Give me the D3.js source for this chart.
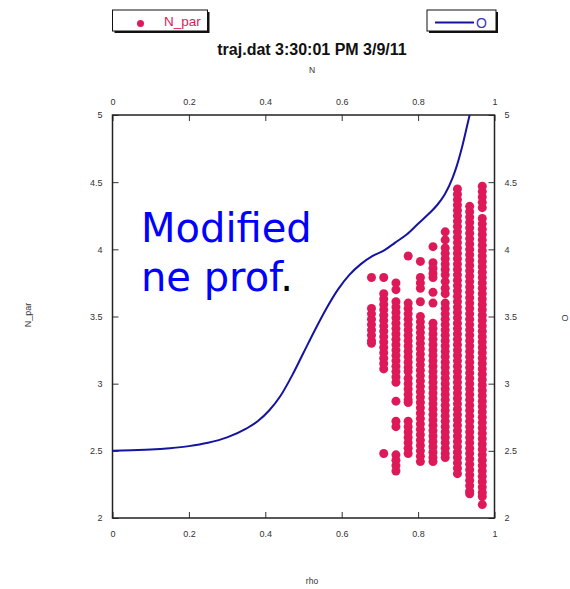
<!DOCTYPE html>
<html>
<head>
<meta charset="utf-8">
<script src="https://cdn.jsdelivr.net/npm/d3@7"></script>
<style>
  html, body { margin: 0; padding: 0; background: #fff; }
  svg { display: block; }
</style>
</head>
<body>
<svg id="chart" width="570" height="589"></svg>
<script>
// ---- Data -------------------------------------------------------------
// Density profile O versus N (top / right axes)
const profileN = [0, 0.05, 0.10, 0.15, 0.20, 0.25, 0.30, 0.35, 0.38, 0.41, 0.44, 0.47,
  0.50, 0.53, 0.56, 0.59, 0.62, 0.65, 0.68, 0.71, 0.74, 0.77, 0.80, 0.83, 0.85, 0.87,
  0.89, 0.90, 0.915, 0.93, 0.935];
const profileO = [2.50, 2.505, 2.51, 2.52, 2.535, 2.56, 2.60, 2.665, 2.72, 2.80, 2.91, 3.06,
  3.23, 3.40, 3.56, 3.70, 3.81, 3.89, 3.95, 3.99, 4.05, 4.11, 4.19, 4.27, 4.33, 4.41,
  4.53, 4.61, 4.76, 4.94, 5.0];

// N_par of the rays at each rho surface (bottom / left axes)
const rhoSurfaces = [0.678, 0.710, 0.742, 0.774, 0.806, 0.839, 0.871, 0.903, 0.935, 0.968];
const nparBySurface = [
  [3.79, 3.56, 3.52, 3.48, 3.44, 3.40, 3.36, 3.32, 3.30],
  [3.79, 3.67, 3.63, 3.59, 3.55, 3.51, 3.47, 3.43, 3.39, 3.35, 3.31, 3.27, 3.23, 3.19, 3.15, 3.11, 2.48],
  [3.75, 3.70, 3.61, 3.57, 3.53, 3.49, 3.45, 3.41, 3.37, 3.33, 3.29, 3.25, 3.21, 3.17, 3.13, 3.09,
   3.05, 3.01, 2.87, 2.72, 2.68, 2.47, 2.43, 2.39, 2.35],
  [3.95, 3.60, 3.56, 3.52, 3.48, 3.44, 3.40, 3.36, 3.32, 3.28, 3.24, 3.20, 3.16, 3.12, 3.09,
   3.04, 3.00, 2.96, 2.92, 2.88, 2.86, 2.72, 2.68, 2.64, 2.60, 2.56, 2.52, 2.48],
  [3.91, 3.79, 3.75, 3.71, 3.61, 3.50, 3.46, 3.42, 3.38, 3.34, 3.30, 3.26, 3.22, 3.18, 3.14,
   3.10, 3.06, 3.02, 2.98, 2.94, 2.90, 2.86, 2.82, 2.78, 2.74, 2.70, 2.66, 2.62, 2.58, 2.54,
   2.50, 2.46, 2.42],
  [4.02, 3.90, 3.86, 3.82, 3.79, 3.68, 3.60, 3.45, 3.41, 3.37, 3.33, 3.29, 3.25, 3.21, 3.17,
   3.13, 3.09, 3.05, 3.01, 2.97, 2.93, 2.89, 2.85, 2.81, 2.77, 2.73, 2.69, 2.65, 2.61, 2.57,
   2.53, 2.49, 2.45, 2.42],
  [4.13, 4.07, 4.01, 3.97, 3.93, 3.89, 3.85, 3.81, 3.76, 3.71, 3.67, 3.60, 3.56, 3.52, 3.48,
   3.44, 3.40, 3.36, 3.32, 3.28, 3.24, 3.20, 3.16, 3.12, 3.08, 3.04, 3.00, 2.96, 2.92, 2.88,
   2.84, 2.80, 2.76, 2.72, 2.68, 2.64, 2.60, 2.56, 2.52, 2.48, 2.45],
  [4.45, 4.41, 4.37, 4.33, 4.29, 4.25, 4.21, 4.17, 4.13, 4.09, 4.05, 4.01, 3.97, 3.93, 3.89,
   3.85, 3.81, 3.77, 3.73, 3.69, 3.65, 3.61, 3.57, 3.53, 3.49, 3.45, 3.41, 3.37, 3.33, 3.29,
   3.25, 3.21, 3.17, 3.13, 3.09, 3.05, 3.01, 2.97, 2.93, 2.89, 2.85, 2.81, 2.77, 2.73, 2.69, 2.65,
   2.61, 2.57, 2.53, 2.49, 2.45, 2.41, 2.37, 2.33],
  [4.32, 4.28, 4.24, 4.20, 4.16, 4.12, 4.08, 4.04, 4.00, 3.96, 3.92, 3.88, 3.84, 3.80, 3.76,
   3.72, 3.68, 3.64, 3.60, 3.56, 3.52, 3.48, 3.44, 3.40, 3.36, 3.32, 3.28, 3.24, 3.20, 3.16,
   3.12, 3.08, 3.04, 3.00, 2.96, 2.92, 2.88, 2.84, 2.80, 2.76, 2.72, 2.68, 2.64, 2.60, 2.56,
   2.52, 2.48, 2.44, 2.40, 2.36, 2.32, 2.28, 2.24, 2.20, 2.18],
  [4.47, 4.43, 4.39, 4.35, 4.31, 4.23, 4.19, 4.15, 4.11, 4.07, 4.03, 3.99, 3.95, 3.91, 3.87,
   3.83, 3.79, 3.75, 3.71, 3.67, 3.63, 3.59, 3.55, 3.51, 3.47, 3.43, 3.39, 3.35, 3.31, 3.27,
   3.23, 3.19, 3.15, 3.11, 3.07, 3.03, 2.99, 2.95, 2.91, 2.87, 2.83, 2.79, 2.75, 2.71, 2.67,
   2.63, 2.59, 2.55, 2.51, 2.47, 2.43, 2.39, 2.35, 2.31, 2.27, 2.23, 2.19, 2.16, 2.10]
];

// Axis ticks
const xTicks = [0, 0.2, 0.4, 0.6, 0.8, 1];
const yTicks = [2, 2.5, 3, 3.5, 4, 4.5, 5];

// Text
const titleText = "traj.dat 3:30:01 PM 3/9/11";
const noteLines = ["Modified", "ne prof"];

// ---- Layout -----------------------------------------------------------
const svg = d3.select("#chart");
const plot = { left: 112.5, right: 494.5, top: 115, bottom: 518 };
const cx = 312;
const sans = "'Liberation Sans', Arial, sans-serif";

const x = d3.scaleLinear().domain([0, 1]).range([plot.left, plot.right]);
const y = d3.scaleLinear().domain([2, 5]).range([plot.bottom, plot.top]);
const xTop = d3.scaleLinear().domain([0, 1]).range([plot.left, plot.right]);
const yRight = d3.scaleLinear().domain([2, 5]).range([plot.bottom, plot.top]);

const dotColor = "#DE195A";
const lineColor = "#1414A0";
const fmt = d => String(d);

// ---- Axes -------------------------------------------------------------
function styleAxis(g) {
  g.select(".domain").remove();
  g.selectAll(".tick line").attr("stroke", "#333").attr("stroke-width", 1);
  g.selectAll(".tick text").attr("fill", "#333")
    .style("font-size", "9px").style("font-family", sans);
}

svg.append("g").attr("transform", `translate(0,${plot.bottom})`)
  .call(d3.axisBottom(x).tickValues(xTicks).tickFormat(fmt).tickSizeInner(-6).tickSizeOuter(0).tickPadding(13))
  .call(styleAxis);
svg.append("g").attr("transform", `translate(0,${plot.top})`)
  .call(d3.axisTop(xTop).tickValues(xTicks).tickFormat(fmt).tickSizeInner(-6).tickSizeOuter(0).tickPadding(10))
  .call(styleAxis);
svg.append("g").attr("transform", `translate(${plot.left},0)`)
  .call(d3.axisLeft(y).tickValues(yTicks).tickFormat(fmt).tickSizeInner(-6).tickSizeOuter(0).tickPadding(10))
  .call(styleAxis);
svg.append("g").attr("transform", `translate(${plot.right},0)`)
  .call(d3.axisRight(yRight).tickValues(yTicks).tickFormat(fmt).tickSizeInner(-6).tickSizeOuter(0).tickPadding(10))
  .call(styleAxis);

// Plot frame
svg.append("rect")
  .attr("x", plot.left).attr("y", plot.top)
  .attr("width", plot.right - plot.left).attr("height", plot.bottom - plot.top)
  .attr("fill", "none").attr("stroke", "#222").attr("stroke-width", 1.5);

// ---- Marks ------------------------------------------------------------
const points = [];
rhoSurfaces.forEach((r, i) => nparBySurface[i].forEach(v => points.push({ rho: r, npar: v })));

svg.append("g").selectAll("circle").data(points).join("circle")
  .attr("cx", d => x(d.rho)).attr("cy", d => y(d.npar))
  .attr("r", 4.5).attr("fill", dotColor);

const profile = profileN.map((n, i) => ({ n, o: profileO[i] }));
svg.append("path").datum(profile)
  .attr("fill", "none").attr("stroke", lineColor).attr("stroke-width", 2)
  .attr("stroke-linejoin", "round")
  .attr("d", d3.line().x(d => xTop(d.n)).y(d => yRight(d.o)).curve(d3.curveMonotoneX));

// ---- Titles and labels -------------------------------------------------
function label(sel, size, weight) {
  return sel.style("font-family", sans).style("font-size", size + "px").style("font-weight", weight || "normal");
}
label(svg.append("text").attr("x", cx).attr("y", 55).attr("text-anchor", "middle")
  .attr("fill", "#111").text(titleText), 16, "bold");
label(svg.append("text").attr("x", cx).attr("y", 73).attr("text-anchor", "middle")
  .attr("fill", "#333").text("N"), 8.5);
label(svg.append("text").attr("x", cx).attr("y", 584).attr("text-anchor", "middle")
  .attr("fill", "#333").text("rho"), 8.5);
label(svg.append("text").attr("transform", "translate(31,315) rotate(-90)").attr("text-anchor", "middle")
  .attr("fill", "#333").text("N_par"), 9);
label(svg.append("text").attr("transform", "translate(568,318) rotate(-90)").attr("text-anchor", "middle")
  .attr("fill", "#333").text("O"), 9);

// ---- Legends -----------------------------------------------------------
function legendBox(x0, w) {
  svg.append("rect").attr("x", x0 + 2).attr("y", 12).attr("width", w).attr("height", 21).attr("fill", "#111");
  svg.append("rect").attr("x", x0).attr("y", 10).attr("width", w).attr("height", 21)
    .attr("fill", "#fff").attr("stroke", "#111").attr("stroke-width", 1);
}
legendBox(112.5, 95);
svg.append("circle").attr("cx", 140.5).attr("cy", 23.5).attr("r", 3.5).attr("fill", dotColor);
label(svg.append("text").attr("x", 164).attr("y", 26).attr("fill", dotColor).text("N_par"), 13.5);

legendBox(427, 69);
svg.append("line").attr("x1", 435).attr("x2", 474).attr("y1", 22.5).attr("y2", 22.5)
  .attr("stroke", lineColor).attr("stroke-width", 2);
label(svg.append("text").attr("x", 476).attr("y", 27.5).attr("fill", "#3535C8").text("O"), 14);

// ---- Annotation --------------------------------------------------------
const note = svg.append("text")
  .style("font-family", "'DejaVu Sans', sans-serif")
  .style("font-size", "40px").attr("fill", "#0000FF");
note.append("tspan").attr("x", 141).attr("y", 242).text(noteLines[0]);
note.append("tspan").attr("x", 141).attr("y", 291).text(noteLines[1]);
note.append("tspan").attr("fill", "#000").text(".");
</script>
</body>
</html>
